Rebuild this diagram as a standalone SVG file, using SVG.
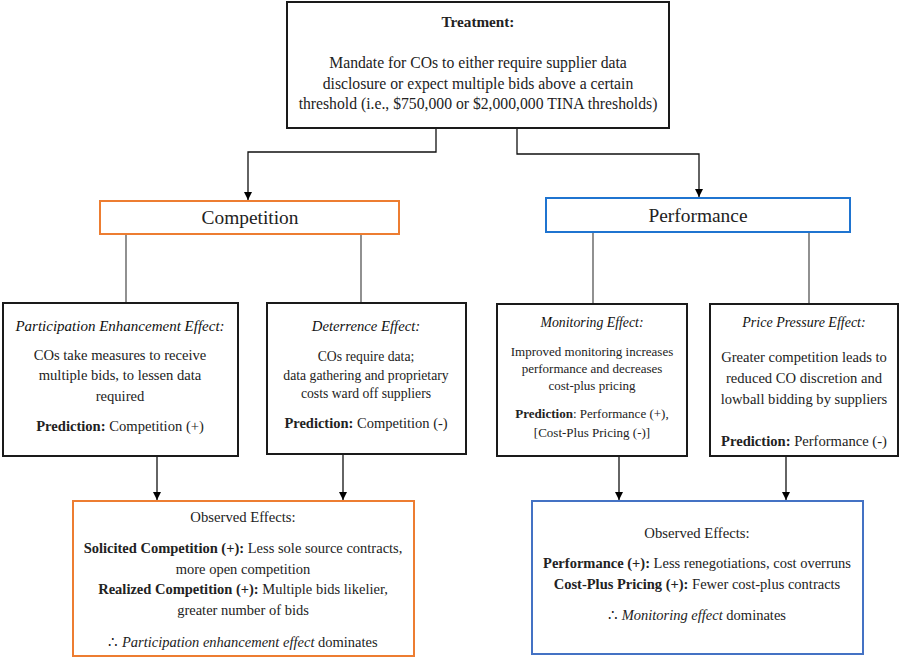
<svg xmlns="http://www.w3.org/2000/svg" width="900" height="658" viewBox="0 0 900 658">
<defs>
<marker id="ah" viewBox="0 0 10 10" refX="10" refY="5" markerWidth="8" markerHeight="8" markerUnits="userSpaceOnUse" orient="auto">
<path d="M0,0 L10,5 L0,10 z" fill="#000"/>
</marker>
</defs>
<style>
text{font-family:'Liberation Serif',serif;fill:#222;text-anchor:middle}
.box{fill:#fff;stroke:#1a1a1a;stroke-width:2}
.org{fill:#fff;stroke:#ED7D31;stroke-width:2}
.blu{fill:#fff;stroke:#1F74D0;stroke-width:2}
.blu2{fill:#fff;stroke:#4472C4;stroke-width:2}
.ln{fill:none;stroke:#555;stroke-width:1.3}
.ar{fill:none;stroke:#111;stroke-width:1.3;marker-end:url(#ah)}
.b{font-weight:bold}
.i{font-style:italic}
.h{font-style:italic;fill:#111}
.tt{font-size:15.7px}
.big{font-size:19.4px}
.s146{font-size:14.6px}
.s145{font-size:14.5px}
.s137{font-size:13.7px}
.s13{font-size:13px}
</style>
<g id="connectors">
<polyline class="ar" points="436,128 436,152 248,152 248,200"/>
<polyline class="ar" points="517,128 517,154 699,154 699,197"/>
<line class="ln" x1="126" y1="234" x2="126" y2="303"/>
<line class="ln" x1="361" y1="234" x2="361" y2="303"/>
<line class="ln" x1="593" y1="232" x2="593" y2="304"/>
<line class="ln" x1="809" y1="232" x2="809" y2="304"/>
<line class="ar" x1="157" y1="456" x2="157" y2="500"/>
<line class="ar" x1="343" y1="454" x2="343" y2="500"/>
<line class="ar" x1="619" y1="456" x2="619" y2="500"/>
<line class="ar" x1="786" y1="456" x2="786" y2="500"/>
</g>
<g id="treatment">
<rect class="box" x="287" y="2" width="382" height="126"/>
<text class="b" font-size="15.2" x="478" y="27">Treatment:</text>
<text class="tt" x="478" y="68">Mandate for COs to either require supplier data</text>
<text class="tt" x="478" y="89">disclosure or expect multiple bids above a certain</text>
<text class="tt" x="478" y="109">threshold (i.e., $750,000 or $2,000,000 TINA thresholds)</text>
</g>
<g id="competition">
<rect class="org" x="100" y="201" width="299" height="33"/>
<text class="big" x="250" y="224">Competition</text>
</g>
<g id="performance">
<rect class="blu" x="546" y="198" width="304" height="34"/>
<text class="big" x="698" y="222">Performance</text>
</g>
<g id="participation">
<rect class="box" x="3" y="303" width="235" height="153"/>
<text class="h" font-size="15" x="120" y="331">Participation Enhancement Effect:</text>
<text class="s146" x="120" y="360">COs take measures to receive</text>
<text class="s146" x="120" y="380">multiple bids, to lessen data</text>
<text class="s146" x="120" y="401">required</text>
<text class="s146" x="120" y="431"><tspan class="b">Prediction:</tspan> Competition (+)</text>
</g>
<g id="deterrence">
<rect class="box" x="267" y="303" width="199" height="151"/>
<text class="h" font-size="14.7" x="366" y="331">Deterrence Effect:</text>
<text class="s137" x="366" y="361">COs require data;</text>
<text class="s137" x="366" y="380">data gathering and proprietary</text>
<text class="s137" x="366" y="398">costs ward off suppliers</text>
<text class="s145" x="366" y="428"><tspan class="b">Prediction:</tspan> Competition (-)</text>
</g>
<g id="monitoring">
<rect class="box" x="497" y="304" width="190" height="152"/>
<text class="h" font-size="13.8" x="592" y="327">Monitoring Effect:</text>
<text class="s13" x="592" y="356">Improved monitoring increases</text>
<text class="s13" x="592" y="373">performance and decreases</text>
<text class="s13" x="592" y="390">cost-plus pricing</text>
<text class="s13" x="592" y="418"><tspan class="b">Prediction</tspan>: Performance (+),</text>
<text class="s13" x="592" y="437">[Cost-Plus Pricing (-)]</text>
</g>
<g id="pricepressure">
<rect class="box" x="710" y="304" width="188" height="152"/>
<text class="h" font-size="14" x="804" y="327">Price Pressure Effect:</text>
<text class="s146" x="804" y="362">Greater competition leads to</text>
<text class="s146" x="804" y="383">reduced CO discretion and</text>
<text class="s146" x="804" y="404">lowball bidding by suppliers</text>
<text class="s146" x="804" y="446"><tspan class="b">Prediction:</tspan> Performance (-)</text>
</g>
<g id="observed-competition">
<rect class="org" x="73" y="501" width="341" height="155"/>
<text font-size="14.7" x="243" y="522">Observed Effects:</text>
<text class="s145" x="243" y="553"><tspan class="b">Solicited Competition (+):</tspan> Less sole source contracts,</text>
<text class="s145" x="243" y="574">more open competition</text>
<text class="s145" x="243" y="594"><tspan class="b">Realized Competition (+):</tspan> Multiple bids likelier,</text>
<text class="s145" x="243" y="615">greater number of bids</text>
<text class="s145" x="243" y="647">∴ <tspan class="i">Participation enhancement effect</tspan> dominates</text>
</g>
<g id="observed-performance">
<rect class="blu2" x="532" y="501" width="331" height="153"/>
<text font-size="14.7" x="697" y="538">Observed Effects:</text>
<text class="s145" x="697" y="568"><tspan class="b">Performance (+):</tspan> Less renegotiations, cost overruns</text>
<text class="s145" x="697" y="589"><tspan class="b">Cost-Plus Pricing (+):</tspan> Fewer cost-plus contracts</text>
<text class="s145" x="697" y="620">∴ <tspan class="i">Monitoring effect</tspan> dominates</text>
</g>
</svg>
